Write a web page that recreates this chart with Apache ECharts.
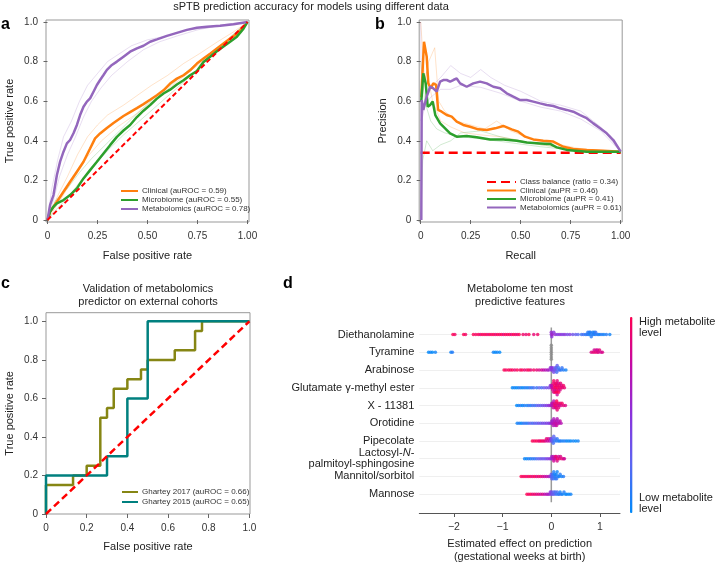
<!DOCTYPE html>
<html lang="en">
<head>
<meta charset="UTF-8">
<title>sPTB prediction accuracy</title>
<style>
  html, body { margin: 0; padding: 0; background: #fff; }
  #main { width: 720px; height: 564px; }
</style>
</head>
<body>
<div id="main"></div>
<script src="https://cdn.jsdelivr.net/npm/echarts@6/dist/echarts.min.js"></script>
<script>
// ---- panel a: ROC (mean curves) ----
const rocClinical = [[0,0],[0.013,0.042],[0.047,0.092],[0.08,0.143],[0.113,0.193],[0.147,0.244],[0.18,0.294],[0.213,0.361],[0.238,0.412],[0.263,0.437],[0.297,0.465],[0.33,0.49],[0.38,0.525],[0.413,0.545],[0.447,0.565],[0.48,0.585],[0.513,0.607],[0.547,0.63],[0.58,0.655],[0.613,0.689],[0.647,0.714],[0.68,0.731],[0.713,0.756],[0.747,0.79],[0.78,0.815],[0.813,0.84],[0.847,0.866],[0.88,0.891],[0.913,0.916],[0.947,0.941],[0.98,0.975],[1,1]];
const rocMicrobiome = [[0,0],[0.013,0.042],[0.03,0.067],[0.047,0.084],[0.08,0.101],[0.113,0.126],[0.147,0.16],[0.18,0.21],[0.213,0.252],[0.247,0.294],[0.28,0.336],[0.313,0.378],[0.347,0.42],[0.38,0.452],[0.413,0.48],[0.447,0.52],[0.48,0.552],[0.513,0.58],[0.547,0.613],[0.58,0.639],[0.613,0.658],[0.647,0.684],[0.68,0.706],[0.713,0.731],[0.747,0.752],[0.78,0.798],[0.813,0.824],[0.847,0.852],[0.88,0.876],[0.913,0.9],[0.947,0.926],[0.98,0.966],[1,1]];
const rocMetabolomics = [[0,0],[0.013,0.076],[0.03,0.126],[0.047,0.227],[0.063,0.295],[0.08,0.345],[0.097,0.387],[0.113,0.404],[0.13,0.438],[0.147,0.48],[0.163,0.53],[0.18,0.572],[0.197,0.598],[0.213,0.614],[0.23,0.648],[0.247,0.682],[0.263,0.707],[0.28,0.732],[0.297,0.758],[0.322,0.783],[0.347,0.8],[0.38,0.825],[0.413,0.85],[0.447,0.867],[0.48,0.88],[0.513,0.9],[0.547,0.912],[0.597,0.93],[0.647,0.945],[0.697,0.96],[0.747,0.971],[0.797,0.976],[0.863,0.981],[0.93,0.988],[1,1]];
// faint per-fold curves
const rocClinicalFoldA = [[0,0],[0.05,0.12],[0.1,0.22],[0.15,0.33],[0.2,0.42],[0.25,0.48],[0.3,0.53],[0.38,0.58],[0.45,0.63],[0.52,0.68],[0.6,0.73],[0.68,0.79],[0.76,0.84],[0.85,0.9],[0.93,0.95],[1,1]];
const rocClinicalFoldB = [[0,0],[0.05,0.08],[0.1,0.16],[0.15,0.24],[0.2,0.32],[0.27,0.4],[0.35,0.47],[0.45,0.54],[0.55,0.62],[0.65,0.7],[0.75,0.78],[0.85,0.86],[0.95,0.95],[1,1]];
const rocMicrobiomeFoldA = [[0,0],[0.04,0.1],[0.1,0.16],[0.16,0.24],[0.22,0.31],[0.3,0.39],[0.38,0.47],[0.46,0.55],[0.55,0.63],[0.64,0.7],[0.72,0.77],[0.8,0.83],[0.9,0.91],[1,1]];
const rocMicrobiomeFoldB = [[0,0],[0.05,0.06],[0.1,0.11],[0.16,0.19],[0.22,0.26],[0.3,0.35],[0.38,0.43],[0.46,0.5],[0.55,0.58],[0.64,0.66],[0.74,0.75],[0.84,0.85],[0.92,0.93],[1,1]];
const rocMetabolomicsFoldA = [[0,0],[0.02,0.15],[0.05,0.3],[0.08,0.42],[0.12,0.5],[0.16,0.6],[0.2,0.68],[0.25,0.74],[0.3,0.8],[0.36,0.84],[0.42,0.88],[0.5,0.91],[0.6,0.93],[0.7,0.96],[0.8,0.97],[0.9,0.99],[1,1]];
const rocMetabolomicsFoldB = [[0,0],[0.03,0.1],[0.06,0.22],[0.1,0.33],[0.14,0.42],[0.18,0.52],[0.22,0.6],[0.27,0.67],[0.32,0.73],[0.4,0.8],[0.48,0.86],[0.56,0.9],[0.65,0.93],[0.75,0.96],[0.85,0.98],[1,1]];
const chanceLine = [[0,0],[1,1]];

// ---- panel b: precision-recall ----
const classBalance = 0.34;
const prClinical = [[0.003,0.62],[0.0165,0.9],[0.03,0.825],[0.038,0.69],[0.05,0.665],[0.063,0.69],[0.077,0.682],[0.087,0.556],[0.105,0.547],[0.13,0.53],[0.155,0.522],[0.18,0.497],[0.213,0.48],[0.247,0.471],[0.288,0.458],[0.33,0.455],[0.372,0.463],[0.413,0.475],[0.455,0.458],[0.488,0.446],[0.522,0.421],[0.563,0.407],[0.613,0.4],[0.663,0.396],[0.713,0.37],[0.763,0.359],[0.83,0.354],[0.913,0.35],[1,0.345]];
const prMicrobiome = [[0.003,0.6],[0.013,0.741],[0.025,0.69],[0.035,0.572],[0.047,0.581],[0.06,0.598],[0.073,0.53],[0.097,0.488],[0.122,0.463],[0.147,0.438],[0.18,0.421],[0.23,0.424],[0.28,0.418],[0.347,0.407],[0.413,0.407],[0.48,0.4],[0.53,0.391],[0.597,0.387],[0.647,0.384],[0.68,0.367],[0.73,0.354],[0.83,0.345],[1,0.345]];
const prMetabolomics = [[0.003,0],[0.005,0.606],[0.013,0.556],[0.03,0.623],[0.047,0.673],[0.063,0.665],[0.08,0.648],[0.097,0.699],[0.113,0.707],[0.13,0.707],[0.147,0.699],[0.163,0.707],[0.18,0.715],[0.197,0.69],[0.23,0.673],[0.263,0.69],[0.297,0.699],[0.33,0.69],[0.363,0.673],[0.397,0.665],[0.43,0.64],[0.463,0.623],[0.497,0.606],[0.53,0.606],[0.563,0.598],[0.597,0.589],[0.63,0.581],[0.663,0.576],[0.697,0.564],[0.73,0.556],[0.763,0.547],[0.797,0.53],[0.83,0.514],[0.863,0.488],[0.897,0.463],[0.93,0.438],[0.963,0.404],[1,0.345]];
const prClinicalFoldA = [[0,1],[0.01,1],[0.02,0.7],[0.04,0.8],[0.07,0.87],[0.09,0.6],[0.12,0.55],[0.18,0.5],[0.25,0.48],[0.32,0.46],[0.38,0.5],[0.45,0.45],[0.55,0.41],[0.65,0.39],[0.8,0.36],[1,0.345]];
const prClinicalFoldB = [[0,0.6],[0.03,0.75],[0.06,0.6],[0.1,0.5],[0.15,0.47],[0.22,0.44],[0.3,0.43],[0.4,0.42],[0.5,0.4],[0.6,0.38],[0.75,0.36],[1,0.345]];
const prMicrobiomeFoldA = [[0,0],[0.01,0.3],[0.03,0.4],[0.06,0.35],[0.1,0.38],[0.15,0.4],[0.2,0.44],[0.3,0.45],[0.4,0.42],[0.5,0.4],[0.6,0.38],[0.75,0.36],[1,0.345]];
const prMicrobiomeFoldB = [[0,0.8],[0.02,0.6],[0.05,0.5],[0.08,0.46],[0.12,0.44],[0.2,0.42],[0.3,0.41],[0.45,0.39],[0.6,0.37],[0.8,0.35],[1,0.345]];
const prMetabolomicsFoldA = [[0,1],[0.005,0.5],[0.03,0.62],[0.06,0.68],[0.1,0.72],[0.15,0.78],[0.2,0.74],[0.25,0.72],[0.3,0.76],[0.35,0.72],[0.42,0.68],[0.5,0.65],[0.6,0.6],[0.7,0.58],[0.8,0.55],[0.9,0.47],[1,0.345]];
const prMetabolomicsFoldB = [[0,0.5],[0.02,0.58],[0.05,0.62],[0.1,0.66],[0.15,0.66],[0.2,0.68],[0.3,0.67],[0.4,0.64],[0.5,0.6],[0.6,0.57],[0.7,0.55],[0.8,0.51],[0.9,0.45],[1,0.345]];

// ---- panel c: external cohorts (step ROC corners) ----
const rocGhartey2017 = [[0,0],[0,0.15],[0.133,0.2],[0.2,0.25],[0.267,0.5],[0.3,0.55],[0.333,0.65],[0.4,0.7],[0.467,0.75],[0.5,0.8],[0.633,0.85],[0.733,0.95],[0.767,1],[1,1]];
const rocGhartey2015 = [[0,0],[0,0.2],[0.3,0.3],[0.4,0.6],[0.5,1],[1,1]];

// ---- panel d: SHAP values [effect, metabolite level 0..1], level -1 = missing ----
const featureNames = ['Diethanolamine','Tyramine','Arabinose','Glutamate γ-methyl ester','X - 11381','Orotidine','Pipecolate','Lactosyl-N-palmitoyl-sphingosine','Mannitol/sorbitol','Mannose'];
const shapDiethanolamine = [[-2.02,1],[-1.98,0.95],[-1.8,1],[-1.76,0.95],[-1.6,1],[-1.55,0.95],[-1.5,1],[-1.46,0.9],[-1.42,1],[-1.38,0.95],[-1.34,1],[-1.3,0.9],[-1.26,1],[-1.22,0.95],[-1.18,1],[-1.14,0.9],[-1.1,1],[-1.06,0.95],[-1.02,1],[-0.98,0.9],[-0.94,1],[-0.9,0.95],[-0.86,1],[-0.82,0.9],[-0.78,1],[-0.74,0.95],[-0.7,0.9],[-0.66,1],[-0.58,0.95],[-0.52,0.9],[-0.46,1],[-0.36,0.9],[-0.28,0.95],[0,0.5],[0,0.55],[0.01,0.5],[0.02,0.6],[0.05,0.5],[0.08,0.55],[0.12,0.45],[0.16,0.5],[0.2,0.5],[0.24,0.45],[0.28,0.5],[0.33,0.4],[0.38,0.45],[0.44,0.35],[0.5,0.3],[0.55,0.25],[0.62,0.15],[0.66,0.2],[0.7,0.1],[0.73,0.15],[0.75,0.1],[0.76,0.1],[0.78,0.12],[0.79,0.05],[0.8,0.08],[0.82,0.1],[0.84,0.1],[0.85,0.1],[0.87,0.1],[0.88,0.05],[0.9,0.08],[0.91,0.15],[0.94,0.1],[0.97,0.1],[1,0.05],[1.04,0.1],[1.08,0.05],[1.13,0.1],[1.2,0.05]];
const shapTyramine = [[-2.52,0],[-2.48,0.05],[-2.44,0],[-2.38,0.05],[-2.06,0.05],[-2.03,0.1],[-1.19,0.05],[-1.15,0],[-1.11,0.05],[-1.06,0],[0,-1],[0,-1],[0,-1],[0,-1],[0,-1],[0,-1],[0,-1],[0.82,0.85],[0.86,0.9],[0.88,0.8],[0.9,0.9],[0.92,0.85],[0.94,0.9],[0.95,0.8],[0.97,0.85],[0.99,0.9],[1.02,0.8],[1.05,0.85]];
const shapArabinose = [[-0.97,1],[-0.93,0.95],[-0.88,1],[-0.84,0.95],[-0.8,1],[-0.75,0.9],[-0.7,1],[-0.64,0.95],[-0.6,1],[-0.55,0.9],[-0.5,0.95],[-0.46,1],[-0.42,0.9],[-0.36,0.95],[-0.3,0.9],[-0.25,0.85],[-0.2,0.8],[-0.16,0.75],[-0.12,0.7],[-0.08,0.65],[-0.05,0.6],[-0.02,0.55],[0,0.5],[0,0.45],[0.02,0.45],[0.03,0.5],[0.05,0.4],[0.06,0.35],[0.08,0.3],[0.09,0.35],[0.1,0.25],[0.11,0.2],[0.12,0.3],[0.14,0.2],[0.15,0.15],[0.17,0.2],[0.2,0.1],[0.22,0.15],[0.25,0.1],[0.3,0.05]];
const shapGlutamate = [[-0.8,0],[-0.76,0.05],[-0.72,0],[-0.68,0.05],[-0.64,0.1],[-0.6,0],[-0.56,0.05],[-0.52,0.1],[-0.48,0.05],[-0.44,0.15],[-0.4,0.1],[-0.36,0.2],[-0.3,0.15],[-0.25,0.25],[-0.2,0.2],[-0.15,0.3],[-0.1,0.35],[-0.05,0.4],[-0.02,0.45],[0,0.6],[0,0.7],[0.02,0.8],[0.02,0.75],[0.03,0.85],[0.04,0.9],[0.05,0.85],[0.05,0.95],[0.06,0.9],[0.07,1],[0.07,0.85],[0.08,0.9],[0.08,0.95],[0.09,1],[0.1,0.9],[0.1,0.85],[0.11,0.95],[0.11,1],[0.12,0.9],[0.12,0.8],[0.13,1],[0.13,0.9],[0.14,0.95],[0.15,0.85],[0.15,1],[0.16,0.9],[0.17,0.95],[0.18,0.85],[0.19,0.9],[0.2,0.95],[0.21,0.85],[0.23,0.9],[0.25,0.95],[0.27,0.9]];
const shapX11381 = [[-0.71,0],[-0.67,0.05],[-0.63,0.1],[-0.59,0],[-0.55,0.1],[-0.5,0.05],[-0.46,0.15],[-0.42,0.1],[-0.38,0.2],[-0.34,0.15],[-0.3,0.25],[-0.26,0.3],[-0.22,0.3],[-0.18,0.35],[-0.14,0.4],[-0.1,0.45],[-0.06,0.5],[-0.03,0.55],[0,0.6],[0.01,0.65],[0.02,0.7],[0.03,0.75],[0.04,0.8],[0.05,0.7],[0.06,0.85],[0.07,0.9],[0.08,0.8],[0.09,0.95],[0.1,0.85],[0.1,0.9],[0.11,1],[0.12,0.9],[0.13,0.85],[0.14,0.95],[0.15,0.9],[0.16,0.8],[0.18,0.9],[0.2,0.85],[0.22,0.95],[0.25,0.9],[0.29,0.85]];
const shapOrotidine = [[-0.7,0.05],[-0.66,0.1],[-0.62,0],[-0.58,0.1],[-0.54,0.15],[-0.5,0.1],[-0.46,0.2],[-0.42,0.25],[-0.38,0.2],[-0.34,0.3],[-0.3,0.25],[-0.26,0.35],[-0.22,0.3],[-0.18,0.4],[-0.14,0.35],[-0.1,0.45],[-0.06,0.4],[-0.03,0.5],[0,0.55],[0.01,0.6],[0.02,0.65],[0.03,0.6],[0.04,0.7],[0.05,0.65],[0.06,0.75],[0.07,0.7],[0.08,0.65],[0.09,0.75],[0.1,0.7],[0.11,0.8],[0.12,0.7],[0.13,0.75],[0.14,0.65],[0.16,0.7],[0.18,0.75],[0.2,0.7]];
const shapPipecolate = [[-0.39,1],[-0.35,0.95],[-0.31,1],[-0.27,0.95],[-0.24,0.9],[-0.21,1],[-0.18,0.9],[-0.15,0.95],[-0.12,0.85],[-0.1,0.9],[-0.08,0.8],[-0.06,0.85],[-0.04,0.75],[-0.02,0.7],[0,0.4],[0,0.35],[0.02,0.3],[0.03,0.25],[0.04,0.2],[0.05,0.25],[0.06,0.15],[0.08,0.2],[0.1,0.1],[0.12,0.15],[0.14,0.1],[0.17,0.05],[0.2,0.1],[0.24,0.05],[0.28,0.1],[0.32,0],[0.36,0.05],[0.4,0],[0.45,0.05],[0.5,0],[0.55,0.05]];
const shapLactosyl = [[-0.55,0.05],[-0.51,0],[-0.47,0.1],[-0.43,0.05],[-0.39,0.15],[-0.35,0.1],[-0.31,0.2],[-0.27,0.25],[-0.23,0.3],[-0.19,0.35],[-0.15,0.3],[-0.11,0.4],[-0.07,0.45],[-0.03,0.5],[0,0.55],[0.01,0.6],[0.03,0.65],[0.04,0.7],[0.05,0.8],[0.06,0.75],[0.08,0.85],[0.09,0.8],[0.1,0.9],[0.12,0.85],[0.13,0.95],[0.15,0.8],[0.17,0.9],[0.19,0.85],[0.22,0.9],[0.25,0.85],[0.27,0.8]];
const shapMannitol = [[-0.62,1],[-0.58,0.95],[-0.54,1],[-0.5,0.9],[-0.46,1],[-0.42,0.95],[-0.38,0.9],[-0.34,1],[-0.3,0.85],[-0.26,0.95],[-0.22,0.9],[-0.18,0.85],[-0.14,0.8],[-0.1,0.75],[-0.06,0.7],[-0.03,0.6],[0,0.3],[0,0.35],[0.01,0.25],[0.02,0.2],[0.03,0.15],[0.04,0.2],[0.05,0.1],[0.06,0.15],[0.07,0.05],[0.08,0.1],[0.09,0.1],[0.1,0.05],[0.11,0.15],[0.12,0.05],[0.14,0.1],[0.16,0.05],[0.18,0.1],[0.21,0.05],[0.25,0.1]];
const shapMannose = [[-0.5,1],[-0.46,0.95],[-0.42,1],[-0.38,0.9],[-0.34,0.95],[-0.3,0.85],[-0.26,0.9],[-0.22,0.8],[-0.18,0.85],[-0.14,0.75],[-0.1,0.7],[-0.07,0.65],[-0.04,0.6],[-0.02,0.5],[0,0.4],[0.01,0.35],[0.03,0.3],[0.05,0.25],[0.06,0.3],[0.08,0.2],[0.1,0.15],[0.12,0.2],[0.14,0.1],[0.16,0.15],[0.18,0.05],[0.2,0.1],[0.23,0.05],[0.26,0.1],[0.29,0],[0.32,0.05],[0.36,0],[0.4,0.05]];
const shapRows = [shapDiethanolamine, shapTyramine, shapArabinose, shapGlutamate, shapX11381, shapOrotidine, shapPipecolate, shapLactosyl, shapMannitol, shapMannose];

const unitTicks4 = [0, 0.25, 0.5, 0.75, 1];
const unitTicks5 = [0, 0.2, 0.4, 0.6, 0.8, 1];
const shapTicks = [-2, -1, 0, 1];

const C = { clinical:'#ff7f0e', microbiome:'#2ca02c', metabolomics:'#9467bd', red:'#ff0000', olive:'#868614', teal:'#00807f' };
const FONT = '"Liberation Sans", Arial, sans-serif';

// beeswarm: stack points that share an x-bin alternately above/below the row
function swarm(rows) {
    const pts = [], missing = [];
    rows.forEach((row, i) => {
        const counts = {};
        row.forEach(([x, lv]) => {
            const k = Math.round(x / 0.035);
            const n = counts[k] || 0;
            counts[k] = n + 1;
            const off = n === 0 ? 0 : (n % 2 ? -1 : 1) * Math.ceil(n / 2) * 0.13;
            if (lv < 0) missing.push([x, i + off]);
            else pts.push([x, i + off, lv]);
        });
    });
    return { pts, missing };
}
const sw = swarm(shapRows);

function curve(name, data, color, width, idx, extra) {
    return Object.assign({
        name, type: 'line', data, xAxisIndex: idx, yAxisIndex: idx,
        symbol: 'none', showSymbol: false, silent: true,
        lineStyle: { color, width }, itemStyle: { color }
    }, extra || {});
}
function faint(data, color, idx) {
    return curve('', data, color, 1, idx, { lineStyle: { color, width: 1, opacity: 0.22 } });
}

const series = [
    // a
    faint(rocClinicalFoldA, C.clinical, 0), faint(rocClinicalFoldB, C.clinical, 0),
    faint(rocMicrobiomeFoldA, C.microbiome, 0), faint(rocMicrobiomeFoldB, C.microbiome, 0),
    faint(rocMetabolomicsFoldA, C.metabolomics, 0), faint(rocMetabolomicsFoldB, C.metabolomics, 0),
    curve('Clinical (auROC = 0.59)', rocClinical, C.clinical, 2.5, 0),
    curve('Microbiome (auROC = 0.55)', rocMicrobiome, C.microbiome, 2.5, 0),
    curve('Metabolomics (auROC = 0.78)', rocMetabolomics, C.metabolomics, 2.5, 0),
    curve('chanceA', chanceLine, C.red, 2, 0, { lineStyle: { color: C.red, width: 2, type: [5, 3] } }),
    // b
    faint(prClinicalFoldA, C.clinical, 1), faint(prClinicalFoldB, C.clinical, 1),
    faint(prMicrobiomeFoldA, C.microbiome, 1), faint(prMicrobiomeFoldB, C.microbiome, 1),
    faint(prMetabolomicsFoldA, C.metabolomics, 1), faint(prMetabolomicsFoldB, C.metabolomics, 1),
    curve('Class balance (ratio = 0.34)', [[0, classBalance], [1, classBalance]], C.red, 2.5, 1, { lineStyle: { color: C.red, width: 2.5, type: [9, 5] } }),
    curve('Clinical (auPR = 0.46)', prClinical, C.clinical, 2.5, 1),
    curve('Microbiome (auPR = 0.41)', prMicrobiome, C.microbiome, 2.5, 1),
    curve('Metabolomics (auPR = 0.61)', prMetabolomics, C.metabolomics, 2.5, 1),
    // c
    curve('Ghartey 2017 (auROC = 0.66)', rocGhartey2017, C.olive, 2.5, 2, { step: 'end' }),
    curve('Ghartey 2015 (auROC = 0.65)', rocGhartey2015, C.teal, 2.5, 2, { step: 'end' }),
    curve('chanceC', chanceLine, C.red, 2.5, 2, { lineStyle: { color: C.red, width: 2.5, type: [7, 4] } }),
    // d
    curve('zero', [[0, -0.4], [0, 9.45]], '#9a9a9a', 1.5, 3, {
        z: 1,
        markLine: {
            silent: true, symbol: 'none', label: { show: false }, z: 0,
            lineStyle: { color: '#efefef', width: 1, type: 'solid' },
            data: featureNames.map((_, i) => ({ yAxis: i }))
        }
    }),
    { name: 'missing', type: 'scatter', xAxisIndex: 3, yAxisIndex: 3, data: sw.missing, symbolSize: 3.5, z: 5, itemStyle: { color: '#8a8a8a' }, silent: true },
    { name: 'shap', type: 'scatter', xAxisIndex: 3, yAxisIndex: 3, data: sw.pts, symbolSize: 3.5, z: 5, silent: true }
];
const shapIndex = series.length - 1;

function unitX(idx, ticks, fmt, name, nameGap) {
    return {
        gridIndex: idx, type: 'value', min: idx === 2 ? 0 : -0.0075, max: idx === 2 ? 1.003 : 1.0075,
        name, nameLocation: 'middle', nameGap, nameTextStyle: { fontSize: 11, color: '#222', fontFamily: FONT },
        axisLine: { show: false }, splitLine: { show: false },
        axisTick: { show: true, customValues: ticks, length: 4, lineStyle: { color: '#666' } },
        axisLabel: { customValues: ticks, margin: 9, fontSize: 10, color: '#333', fontFamily: FONT, formatter: fmt }
    };
}
function unitY(idx, name) {
    return {
        gridIndex: idx, type: 'value', min: idx === 2 ? 0 : -0.01, max: idx === 2 ? 1.045 : 1.01,
        name, nameLocation: 'middle', nameGap: 31, nameTextStyle: { fontSize: 11, color: '#222', fontFamily: FONT },
        axisLine: { show: false }, splitLine: { show: false },
        axisTick: { show: true, customValues: unitTicks5, length: 4, lineStyle: { color: '#666' } },
        axisLabel: { customValues: unitTicks5, margin: 8, fontSize: 10, color: '#333', fontFamily: FONT,
            formatter: v => v === 0 ? '0' : v.toFixed(1) }
    };
}
const fmt2 = v => v === 0 ? '0' : v.toFixed(2);
const fmt1 = v => v === 0 ? '0' : v.toFixed(1);

function legendAt(data, left, top, itemWidth, gap) {
    return {
        data, left, top, orient: 'vertical', padding: 0, itemWidth, itemHeight: 8, itemGap: gap,
        selectedMode: false, itemStyle: { opacity: 0 },
        textStyle: { fontSize: 8, color: '#333', fontFamily: FONT, padding: [0, 0, 0, -1] }
    };
}

const txt = (text, left, top, size, extra) => Object.assign({
    text, left, top, padding: 0,
    textStyle: Object.assign({ fontSize: size, fontWeight: 'normal', color: '#222', fontFamily: FONT, lineHeight: 13 }, extra || {})
});

const option = {
    animation: false,
    backgroundColor: '#fff',
    title: [
        Object.assign(txt('sPTB prediction accuracy for models using different data', 311, 0, 11), { textAlign: 'center' }),
        txt('a', 1, 18, 16, { fontWeight: 'bold', color: '#000' }),
        txt('b', 375, 18, 16, { fontWeight: 'bold', color: '#000' }),
        txt('c', 1, 277, 16, { fontWeight: 'bold', color: '#000' }),
        txt('d', 283, 277, 16, { fontWeight: 'bold', color: '#000' }),
        Object.assign(txt('Validation of metabolomics\npredictor on external cohorts', 148, 282, 11), { textAlign: 'center' }),
        Object.assign(txt('Metabolome ten most\npredictive features', 520, 282, 11), { textAlign: 'center' }),
        txt('High metabolite\nlevel', 639, 316, 11, { lineHeight: 11 }),
        txt('Low metabolite\nlevel', 639, 492, 11, { lineHeight: 11 })
    ],
    legend: [
        legendAt(['Clinical (auROC = 0.59)', 'Microbiome (auROC = 0.55)', 'Metabolomics (auROC = 0.78)'], 120, 187, 17, 1),
        legendAt(['Class balance (ratio = 0.34)', 'Clinical (auPR = 0.46)', 'Microbiome (auPR = 0.41)', 'Metabolomics (auPR = 0.61)'], 486, 178, 29, 0.5),
        legendAt(['Ghartey 2017 (auROC = 0.66)', 'Ghartey 2015 (auROC = 0.65)'], 121, 488, 16, 2)
    ],
    grid: [
        { left: 46, top: 20, width: 203, height: 202, show: true, borderColor: '#999', borderWidth: 1 },
        { left: 419.2, top: 20, width: 203, height: 202, show: true, borderColor: '#999', borderWidth: 1 },
        { left: 46, top: 312.7, width: 204, height: 201.3, show: true, borderColor: '#999', borderWidth: 1 },
        { left: 419.3, top: 316.8, width: 200.7, height: 198.2 }
    ],
    xAxis: [
        unitX(0, unitTicks4, fmt2, 'False positive rate', 28),
        unitX(1, unitTicks4, fmt2, 'Recall', 28),
        unitX(2, unitTicks5, fmt1, 'False positive rate', 27),
        {
            gridIndex: 3, type: 'value', min: -2.71, max: 1.41,
            name: 'Estimated effect on prediction\n(gestational weeks at birth)', nameLocation: 'middle', nameGap: 25,
            nameTextStyle: { fontSize: 11, color: '#222', fontFamily: FONT, lineHeight: 12.5 },
            axisLine: { show: true, onZero: false, lineStyle: { color: '#555', width: 1 } }, splitLine: { show: false },
            axisTick: { show: true, customValues: shapTicks, length: 4, lineStyle: { color: '#555' } },
            axisLabel: { customValues: shapTicks, margin: 9, fontSize: 10.5, color: '#333', fontFamily: FONT,
                formatter: v => v < 0 ? '\u2212' + Math.abs(v) : String(v) }
        }
    ],
    yAxis: [
        unitY(0, 'True positive rate'),
        unitY(1, 'Precision'),
        unitY(2, 'True positive rate'),
        {
            gridIndex: 3, type: 'value', inverse: true, min: -1, max: 10.06,
            axisLine: { show: false }, axisTick: { show: false }, splitLine: { show: false },
            axisLabel: {
                customValues: featureNames.map((_, i) => i), margin: 5, fontSize: 11, color: '#222', fontFamily: FONT,
                formatter: v => {
                    const n = featureNames[Math.round(v)];
                    if (n.startsWith('Lactosyl')) return '{t|Lactosyl-}{i|N}{t|-}\n{t|palmitoyl-sphingosine}';
                    return n;
                },
                rich: {
                    t: { fontSize: 11, color: '#222', fontFamily: FONT, lineHeight: 11.5 },
                    i: { fontSize: 11, color: '#222', fontFamily: FONT, fontStyle: 'italic', lineHeight: 11.5 }
                }
            }
        }
    ],
    visualMap: {
        type: 'continuous', min: 0, max: 1, dimension: 2, seriesIndex: shapIndex,
        orient: 'vertical', left: 630, top: 317, itemWidth: 2.5, itemHeight: 196, padding: 0,
        calculable: false, showLabel: false, text: null,
        inRange: { color: ['#008afa', '#5b66f2', '#8a32dc', '#c20aa8', '#ff0052'] }
    },
    series
};

const chart = echarts.init(document.getElementById('main'), null, { renderer: 'canvas' });
chart.setOption(option);
</script>
</body>
</html>
